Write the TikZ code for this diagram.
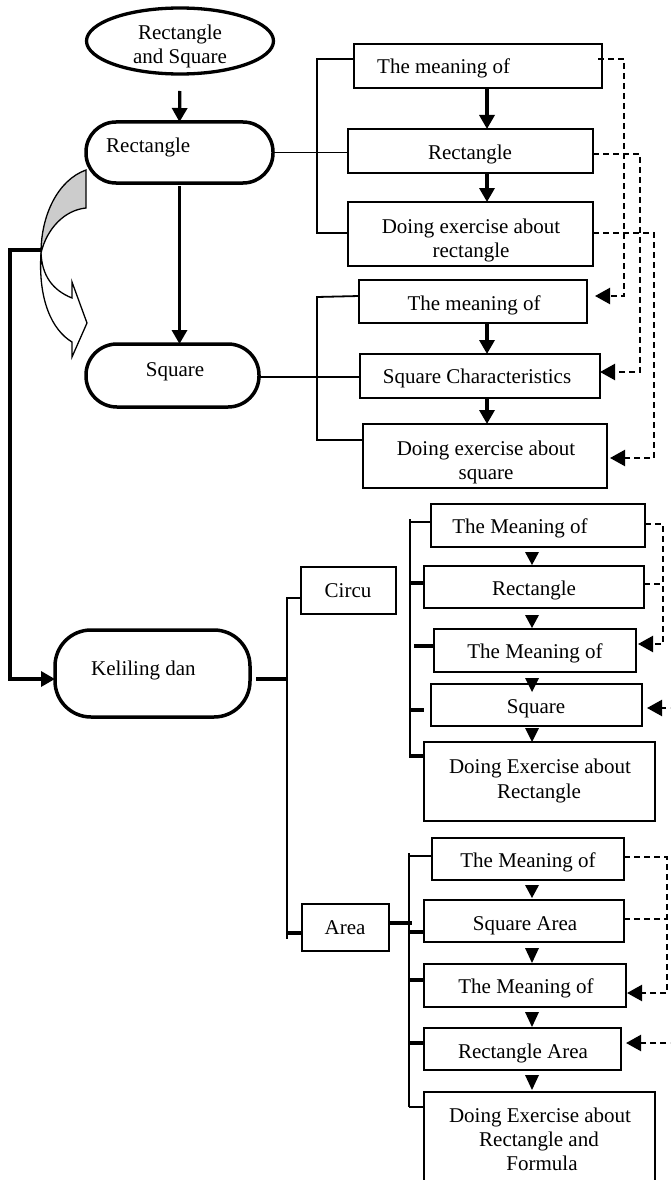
\documentclass[tikz,border=0pt]{standalone}
\usepackage{fontspec}
\setmainfont{Liberation Serif}
\usetikzlibrary{arrows.meta,shapes.geometric}
\definecolor{lg}{RGB}{204,204,204}
\newcommand{\mkbox}[6][]{\node[box,#1,minimum width={(#5-#3)*1pt},minimum height={(#6-#4)*1pt}] (#2) at ({(#3+#5)/2},{(#4+#6)/2}) {};}
\newcommand{\dtri}[2]{\fill (525,#1) -- (539,#1) -- (532,#2) -- cycle;}
\begin{document}
\begin{tikzpicture}[x=1pt,y=-1pt,
  box/.style={draw,line width=2pt,inner sep=0pt,outer sep=0pt,rectangle},
  stad/.style={line width=3.5pt},
  txt/.style={font=\fontsize{21}{24}\selectfont,inner sep=0pt,anchor=base},
  ln/.style={line width=1.8pt},
  stub/.style={line width=4pt},
  thk/.style={line width=3.3pt,-{Triangle[length=14pt,width=15pt]}},
  dsh/.style={line width=2.2pt,dash pattern=on 6pt off 4pt,-{Triangle[length=15pt,width=16pt]}},
  dln/.style={line width=2.2pt,dash pattern=on 6pt off 4pt}]
\clip (0,0) rectangle (670,1180);
\fill[white] (0,0) rectangle (670,1180);

% ---- top nodes
\node[draw,ellipse,line width=3.3pt,inner sep=0pt,outer sep=0pt,minimum width=187pt,minimum height=66pt] (E0) at (180,41) {};
\node[txt] at (180,40) {Rectangle};
\node[txt] at (180,64) {and Square};

\mkbox[stad,rounded corners=30pt]{R}{86}{122}{273}{183}
\node[txt,anchor=base west] at (106,152) {Rectangle};
\mkbox[stad,rounded corners=31pt]{S}{86}{344}{259}{407}
\node[txt] at (175,376) {Square};
\mkbox[stad,rounded corners=36pt]{K}{55}{630}{250}{717}
\node[txt,anchor=base west] at (91,675) {Keliling dan};

% ---- rectangle group
\mkbox{b1}{354}{44}{602}{88}
\node[txt,anchor=base west] at (377,74) {The meaning of};
\mkbox{b2}{348}{129}{593}{173}
\node[txt] at (470,160) {Rectangle};
\mkbox{b3}{348}{202}{593}{266}
\node[txt] at (471,233) {Doing exercise about};
\node[txt] at (471,257) {rectangle};

% ---- square group
\mkbox{b4}{359}{280}{587}{323}
\node[txt] at (474,310) {The meaning of};
\mkbox{b5}{360}{354}{600}{398}
\node[txt] at (477,383) {Square Characteristics};
\mkbox{b6}{363}{424}{607}{488}
\node[txt] at (486,455) {Doing exercise about};
\node[txt] at (486,479) {square};

% ---- circumference group
\mkbox{Ci}{301}{567}{396}{614}
\node[txt] at (348,597) {Circu};
\mkbox{c1}{431}{504}{645}{547}
\node[txt] at (520,533) {The Meaning of};
\mkbox{c2}{424}{566}{644}{608}
\node[txt] at (534,595) {Rectangle};
\mkbox{c3}{434}{629}{636}{672}
\node[txt] at (535,658) {The Meaning of};
\mkbox{c4}{431}{684}{642}{726}
\node[txt] at (536,713) {Square};
\mkbox{c5}{424}{742}{655}{821}
\node[txt] at (540,773) {Doing Exercise about};
\node[txt] at (539,798) {Rectangle};

% ---- area group
\mkbox{Ar}{302}{904}{389}{951}
\node[txt] at (345,934) {Area};
\mkbox{a1}{432}{838}{624}{880}
\node[txt] at (528,867) {The Meaning of};
\mkbox{a2}{424}{900}{624}{942}
\node[txt] at (525,930) {Square Area};
\mkbox{a3}{424}{964}{626}{1007}
\node[txt] at (526,993) {The Meaning of};
\mkbox{a4}{424}{1028}{621}{1070}
\node[txt] at (523,1058) {Rectangle Area};
\mkbox{a5}{424}{1092}{655}{1200}
\node[txt] at (540,1122) {Doing Exercise about};
\node[txt] at (539,1146) {Rectangle and};
\node[txt] at (542,1170) {Formula};

% ---- helper coordinates
\coordinate (colA) at (487,0);
\coordinate (sp1) at (317,0);
\coordinate (spK) at (287,0);
\coordinate (spC) at (410,0);
\coordinate (spA) at (409,0);
\coordinate (ca) at (41,250);

% ---- main flow arrows
\draw[thk,shorten <=17pt] (E0.south) -- (R.north);
\draw[thk,shorten <=3pt] (R.south) -- (R.south |- S.north);
\draw[thk] (b1.south -| colA) -- (b2.north -| colA);
\draw[thk] (b2.south -| colA) -- (b3.north -| colA);
\draw[thk] (b4.south -| colA) -- (b5.north -| colA);
\draw[thk] (b5.south -| colA) -- (b6.north -| colA);
\draw[thk] (ca) -- (10,250) -- (10,679) -- (K.west |- 0,679);

% ---- brackets top groups
\draw[ln] (R.east) -- (b2.west |- R.east);
\draw[ln] (b1.west |- 0,59) -- (sp1 |- 0,59) -- (sp1 |- 0,233) -- (b3.west |- 0,233);
\draw[ln] (S.east |- 0,377) -- (b5.west |- 0,377);
\draw[ln] (b4.west |- 0,296) -- (sp1 |- 0,297) -- (sp1 |- 0,440) -- (b6.west |- 0,440);

% ---- Keliling bracket
\draw[stub,shorten <=6pt] (K.east |- 0,679) -- (spK |- 0,679);
\draw[ln] (Ci.west |- 0,598) -- (spK |- 0,598) -- (spK |- 0,939);
\draw[stub] (spK |- 0,933) -- (Ar.west |- 0,933);

% ---- circumference bracket
\draw[ln] (spC |- 0,519) -- (spC |- 0,758);
\draw[ln] (spC |- 0,522) -- (c1.west |- 0,522);
\draw[stub] (spC |- 0,583) -- (c2.west |- 0,583);
\draw[stub] (414,646) -- (c3.west |- 0,646);
\draw[stub,shorten >=7pt] (spC |- 0,710) -- (c4.west |- 0,710);
\draw[stub] (spC |- 0,756) -- (c5.west |- 0,756);

% ---- area bracket
\draw[stub] (Ar.east |- 0,923) -- (412,923);
\draw[ln] (spA |- 0,853) -- (spA |- 0,1107);
\draw[ln] (spA |- 0,856) -- (a1.west |- 0,856);
\draw[stub] (spA |- 0,932) -- (a2.west |- 0,932);
\draw[stub] (spA |- 0,980) -- (a3.west |- 0,980);
\draw[stub] (spA |- 0,1043) -- (a4.west |- 0,1043);
\draw[ln] (spA |- 0,1107) -- (a5.west |- 0,1107);

% ---- down triangles
\dtri{552}{565}
\dtri{615}{628}
\dtri{678}{692}
\dtri{728}{742}
\dtri{885}{898}
\dtri{948}{963}
\dtri{1012}{1027}
\dtri{1075}{1090}

% ---- dashed feedback connectors
\draw[dsh] ([xshift=-4pt]b1.east |- 0,59) -- (624,59) -- (624,296) -- ([xshift=8pt]b4.east |- 0,296);
\draw[dsh] (b2.east |- 0,154) -- (640,154) -- (640,372) -- (b5.east |- 0,372);
\draw[dsh] (b3.east |- 0,233) -- (654,233) -- (654,458) -- ([xshift=3pt]b6.east |- 0,458);
\draw[dsh] (c1.east |- 0,524) -- (663,524) -- (663,644) -- ([xshift=2pt]c3.east |- 0,644);
\draw[dln] (c2.east |- 0,584) -- (663,584);
\draw[dsh] (676,708) -- ([xshift=5pt]c4.east |- 0,708);
\draw[dsh] (a1.east |- 0,857) -- (667,857) -- (667,993) -- ([xshift=1pt]a3.east |- 0,993);
\draw[dln] (a2.east |- 0,919) -- (667,919);
\draw[dsh] (676,1043) -- ([xshift=5pt]a4.east |- 0,1043);

% ---- curved block arrow
\filldraw[fill=lg,line width=1.3pt] (86,170) .. controls (58,180) and (41,215) .. (41,253) .. controls (47,228) and (65,210) .. (86,208) -- cycle;
\filldraw[fill=white,line width=1.3pt] (41,253) .. controls (38,300) and (52,330) .. (72,342) -- (72,357) -- (87,323) -- (72,282) -- (72,298) .. controls (52,290) and (42,275) .. (41,253) -- cycle;
\end{tikzpicture}
\end{document}
